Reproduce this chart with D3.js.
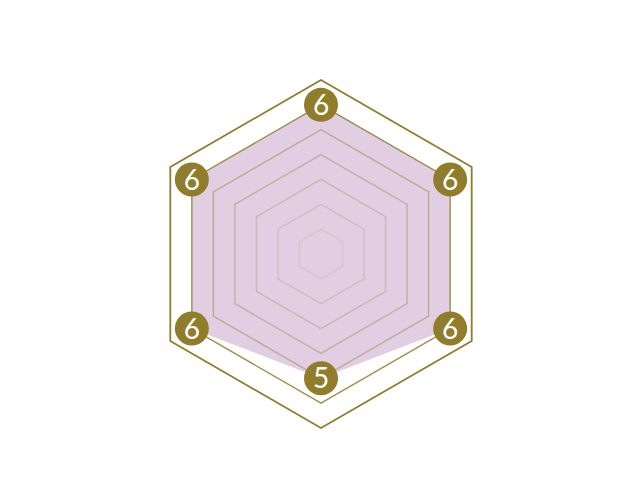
<!DOCTYPE html>
<html>
<head>
<meta charset="utf-8">
<script src="https://cdn.jsdelivr.net/npm/d3@7"></script>
<style>
html,body{margin:0;padding:0;background:#fff;}
</style>
</head>
<body>
<svg id="chart" width="640" height="500"></svg>
<script>
const axes = ["A", "B", "C", "D", "E", "F"];
const values = [6, 6, 6, 5, 6, 6];
const levels = [1, 2, 3, 4, 5, 6, 7];
const maxValue = 7;

const svg = d3.select("#chart");
const cx = 321, cy = 254, R = 174;
const gold = "#8f7d2b";

const r = d3.scaleLinear().domain([0, maxValue]).range([0, R]);
const angle = d3.scaleLinear().domain([0, axes.length]).range([0, 2 * Math.PI]);

const g = svg.append("g").attr("transform", `translate(${cx},${cy})`);

const radial = d3.lineRadial()
  .angle((d, i) => angle(i))
  .radius(d => r(d))
  .curve(d3.curveLinearClosed);

// data polygon
g.append("path")
  .datum(values)
  .attr("d", radial)
  .attr("fill", "#e2cee2")
  .attr("stroke", "none");

// rings
const ringOpacity = d3.scaleLinear().domain([1, 5, 6, 7]).range([0.12, 0.45, 0.85, 1]);
g.selectAll(".ring")
  .data(levels)
  .join("path")
  .attr("class", "ring")
  .attr("d", l => radial(axes.map(() => l)))
  .attr("fill", "none")
  .attr("stroke", gold)
  .attr("stroke-opacity", l => ringOpacity(l))
  .attr("stroke-width", l => l === 7 ? 1.8 : 1.4)
  .attr("stroke-linejoin", "miter");

// value markers
const pts = values.map((v, i) => {
  const a = angle(i) - Math.PI / 2;
  return { v, x: r(v) * Math.cos(a), y: r(v) * Math.sin(a) };
});
const mk = g.selectAll(".mk").data(pts).join("g")
  .attr("class", "mk")
  .attr("transform", d => `translate(${d.x},${d.y})`);
mk.append("circle").attr("r", 17).attr("fill", gold);
mk.append("text")
  .attr("text-anchor", "middle")
  .attr("dy", "0.36em")
  .attr("fill", "#fff")
  .attr("font-family", "Lato, 'Open Sans', sans-serif")
  .attr("font-weight", 400)
  .attr("font-size", 28)
  .text(d => d.v);
</script>
</body>
</html>
